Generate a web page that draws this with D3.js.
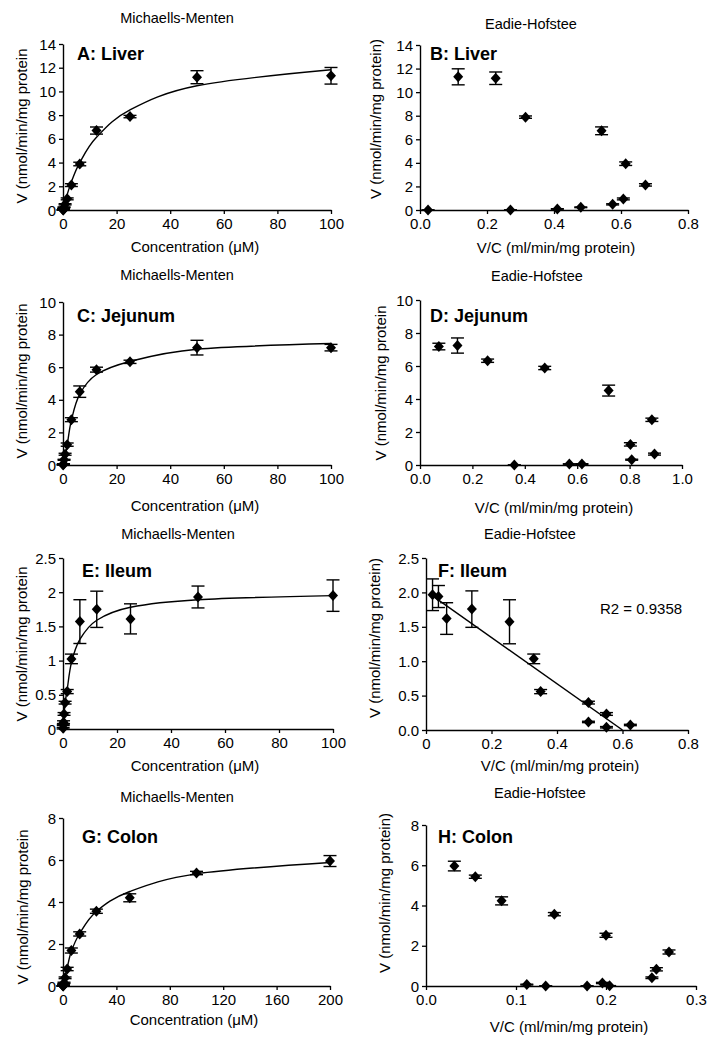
<!DOCTYPE html>
<html><head><meta charset="utf-8">
<script src="https://cdn.jsdelivr.net/npm/d3@7"></script>
<style>
body{margin:0;background:#fff}
svg{display:block}
text{font-family:"Liberation Sans",Arial,sans-serif;fill:#000}
</style>
</head><body><svg id="c" width="718" height="1050"></svg>
<script>
// ---------- DATA ----------
// A: Liver, Michaelis-Menten
const liverConc = [0.05, 0.1, 0.2, 0.39, 0.78, 1.56, 3.125, 6.25, 12.5, 25, 50, 100];
const liverV    = [0.0, 0.01, 0.09, 0.23, 0.48, 0.94, 2.1, 3.88, 6.7, 7.88, 11.2, 11.32];
const liverErr  = [0.01, 0.01, 0.02, 0.03, 0.05, 0.08, 0.12, 0.15, 0.3, 0.1, 0.55, 0.7];
const liverFitY = [0.05, 0.09, 0.18, 0.35, 0.68, 1.3, 2.37, 3.99, 6.13, 8.45, 10.48, 11.83];
// B: Liver, Eadie-Hofstee
const liverVC   = [0.024, 0.27, 0.41, 0.48, 0.575, 0.607, 0.673, 0.614, 0.542, 0.315, 0.226, 0.114];
const liverEHV  = [0.0, 0.0, 0.09, 0.23, 0.48, 0.94, 2.13, 3.93, 6.72, 7.88, 11.18, 11.3];
const liverEHErr= [0.01, 0.01, 0.02, 0.03, 0.05, 0.08, 0.1, 0.15, 0.33, 0.1, 0.53, 0.68];

// C: Jejunum, Michaelis-Menten
const jejConc   = [0.05, 0.1, 0.2, 0.39, 0.78, 1.56, 3.125, 6.25, 12.5, 25, 50, 100];
const jejV      = [0.0, 0.05, 0.06, 0.32, 0.66, 1.25, 2.78, 4.5, 5.85, 6.33, 7.2, 7.2];
const jejErr    = [0.01, 0.01, 0.02, 0.03, 0.06, 0.1, 0.12, 0.35, 0.15, 0.1, 0.45, 0.2];
const jejFitY   = [0.02, 0.05, 0.1, 0.22, 0.5, 1.2, 2.75, 4.35, 5.55, 6.35, 7.1, 7.45];
// D: Jejunum, Eadie-Hofstee
const jejVC     = [0.36, 0.57, 0.618, 0.808, 0.895, 0.803, 0.885, 0.72, 0.476, 0.258, 0.143, 0.072];
const jejEHV    = [0.0, 0.06, 0.06, 0.32, 0.66, 1.25, 2.74, 4.51, 5.88, 6.32, 7.24, 7.18];
const jejEHErr  = [0.01, 0.01, 0.02, 0.03, 0.06, 0.1, 0.1, 0.33, 0.1, 0.1, 0.46, 0.2];

// E: Ileum, Michaelis-Menten
const ileConc   = [0.05, 0.1, 0.2, 0.39, 0.78, 1.56, 3.125, 6.25, 12.5, 25, 50, 100];
const ileV      = [0.01, 0.06, 0.1, 0.22, 0.385, 0.547, 1.025, 1.57, 1.75, 1.61, 1.93, 1.95];
const ileErr    = [0.01, 0.01, 0.02, 0.02, 0.02, 0.03, 0.07, 0.32, 0.265, 0.22, 0.16, 0.23];
const ileFitY   = [0.03, 0.06, 0.11, 0.21, 0.38, 0.58, 0.97, 1.31, 1.59, 1.78, 1.89, 1.95];
// F: Ileum, Eadie-Hofstee
const ileVC     = [0.551, 0.624, 0.496, 0.551, 0.496, 0.35, 0.329, 0.255, 0.14, 0.063, 0.038, 0.02];
const ileEHV    = [0.04, 0.073, 0.117, 0.233, 0.398, 0.558, 1.034, 1.573, 1.757, 1.62, 1.94, 1.966];
const ileEHErr  = [0.01, 0.01, 0.01, 0.02, 0.02, 0.03, 0.07, 0.32, 0.265, 0.23, 0.16, 0.23];
const ileTrendX = [0.02, 0.6];
const ileTrendY = [1.95, 0.0];
const ileR2     = "R2 = 0.9358";

// G: Colon, Michaelis-Menten
const colConc   = [0.05, 0.1, 0.2, 0.39, 0.78, 1.56, 3.125, 6.25, 12.5, 25, 50, 100, 200];
const colV      = [0.0, 0.0, 0.01, 0.07, 0.15, 0.39, 0.81, 1.69, 2.48, 3.56, 4.2, 5.38, 5.95];
const colErr    = [0.01, 0.01, 0.01, 0.02, 0.03, 0.04, 0.08, 0.12, 0.1, 0.1, 0.19, 0.08, 0.26];
const colFitY   = [0.01, 0.03, 0.05, 0.1, 0.2, 0.42, 0.85, 1.65, 2.5, 3.55, 4.5, 5.34, 5.88];
// H: Colon, Eadie-Hofstee
const colVC     = [0.133, 0.179, 0.204, 0.112, 0.196, 0.251, 0.256, 0.27, 0.2, 0.1426, 0.084, 0.0548, 0.0315];
const colEHV    = [0.0, 0.0, 0.01, 0.07, 0.15, 0.41, 0.83, 1.69, 2.52, 3.57, 4.23, 5.43, 5.96];
const colEHErr  = [0.01, 0.01, 0.01, 0.02, 0.03, 0.04, 0.08, 0.1, 0.1, 0.08, 0.2, 0.08, 0.24];

// Axis ticks
const mmTicksX100   = [0, 20, 40, 60, 80, 100];
const mmTicksX200   = [0, 40, 80, 120, 160, 200];
const liverTicksY   = [0, 2, 4, 6, 8, 10, 12, 14];
const jejTicksY     = [0, 2, 4, 6, 8, 10];
const ileTicksY     = [0, 0.5, 1, 1.5, 2, 2.5];
const colTicksY     = [0, 2, 4, 6, 8];
const ehTicksX08    = [0, 0.2, 0.4, 0.6, 0.8];
const ehTicksX10    = [0, 0.2, 0.4, 0.6, 0.8, 1.0];
const ehTicksX03    = [0, 0.1, 0.2, 0.3];

const mmTitle = "Michaells-Menten";
const ehTitle = "Eadie-Hofstee";
const mmXLabel = "Concentration (\u03bcM)";
const ehXLabel = "V/C (ml/min/mg protein)";
const yLabelOpen = "V (nmol/min/mg protein";
const yLabelClosed = "V (nmol/min/mg protein)";

// ---------- PANELS ----------
const panels = [
  {label:"A: Liver", title:mmTitle, xl:mmXLabel, yl:yLabelOpen, x:liverConc, y:liverV, e:liverErr, fx:liverConc, fy:liverFitY,
   xd:[0,100], yd:[0,14], xt:mmTicksX100, yt:liverTicksY, xf:d3.format("d"), yf:d3.format("d"),
   g:{x0:63,x1:331,yb:210,yt:44, tx:177,ty:23, lx:77,ly:60, axx:195,axy:252, ayx:21.7,ayy:126}},
  {label:"B: Liver", title:ehTitle, xl:ehXLabel, yl:yLabelClosed, x:liverVC, y:liverEHV, e:liverEHErr,
   xd:[0,0.8], yd:[0,14], xt:ehTicksX08, yt:liverTicksY, xf:d3.format(".1f"), yf:d3.format("d"),
   g:{x0:420,x1:688,yb:210,yt:45, tx:531,ty:29, lx:430,ly:60, axx:556,axy:253, ayx:376,ayy:119}},
  {label:"C: Jejunum", title:mmTitle, xl:mmXLabel, yl:yLabelOpen, x:jejConc, y:jejV, e:jejErr, fx:jejConc, fy:jejFitY,
   xd:[0,100], yd:[0,10], xt:mmTicksX100, yt:jejTicksY, xf:d3.format("d"), yf:d3.format("d"),
   g:{x0:63,x1:331,yb:465,yt:302, tx:177,ty:280, lx:77,ly:322, axx:195,axy:511, ayx:21.7,ayy:381}},
  {label:"D: Jejunum", title:ehTitle, xl:ehXLabel, yl:yLabelOpen, x:jejVC, y:jejEHV, e:jejEHErr,
   xd:[0,1.0], yd:[0,10], xt:ehTicksX10, yt:jejTicksY, xf:d3.format(".1f"), yf:d3.format("d"),
   g:{x0:420,x1:682,yb:465,yt:300, tx:537,ty:281, lx:430,ly:322, axx:554,axy:513, ayx:380.7,ayy:383}},
  {label:"E: Ileum", title:mmTitle, xl:mmXLabel, yl:yLabelOpen, x:ileConc, y:ileV, e:ileErr, fx:ileConc, fy:ileFitY,
   xd:[0,100], yd:[0,2.5], xt:mmTicksX100, yt:ileTicksY, xf:d3.format("d"), yf:(v=>String(v)),
   g:{x0:63,x1:333,yb:729,yt:558, tx:178,ty:539, lx:82,ly:577, axx:195,axy:771, ayx:21.7,ayy:644}},
  {label:"F: Ileum", title:ehTitle, xl:ehXLabel, yl:yLabelClosed, x:ileVC, y:ileEHV, e:ileEHErr, tx:ileTrendX, ty:ileTrendY, r2:ileR2,
   xd:[0,0.8], yd:[0,2.5], xt:ehTicksX08, yt:ileTicksY, xf:(v=>String(v)), yf:d3.format(".1f"),
   g:{x0:426,x1:688,yb:730,yt:558, tx:530,ty:539, lx:438,ly:577, axx:560,axy:771, ayx:374.7,ayy:638, r2x:600,r2y:614}},
  {label:"G: Colon", title:mmTitle, xl:mmXLabel, yl:yLabelOpen, x:colConc, y:colV, e:colErr, fx:colConc, fy:colFitY,
   xd:[0,200], yd:[0,8], xt:mmTicksX200, yt:colTicksY, xf:d3.format("d"), yf:d3.format("d"),
   g:{x0:63,x1:330,yb:986,yt:818, tx:177,ty:802, lx:82,ly:843, axx:194,axy:1025, ayx:22.7,ayy:907}},
  {label:"H: Colon", title:ehTitle, xl:ehXLabel, yl:yLabelClosed, x:colVC, y:colEHV, e:colEHErr,
   xd:[0,0.3], yd:[0,8], xt:ehTicksX03, yt:colTicksY, xf:d3.format(".1f"), yf:d3.format("d"),
   g:{x0:426,x1:696,yb:986,yt:825, tx:540,ty:798, lx:438,ly:843, axx:569,axy:1032, ayx:384.7,ayy:893}}
];

const svg = d3.select("#c");
svg.append("rect").attr("width",718).attr("height",1050).attr("fill","#fff");

const FS = 15;
const diamond = "M0,-5.5L5,0L0,5.5L-5,0Z";

panels.forEach((p, i) => {
  const g = p.g;
  const xs = d3.scaleLinear().domain(p.xd).range([g.x0, g.x1]);
  const ys = d3.scaleLinear().domain(p.yd).range([g.yb, g.yt]);
  const root = svg.append("g");

  // title
  root.append("text").attr("x", g.tx).attr("y", g.ty).attr("text-anchor","middle")
    .style("font-size","14.5px").text(p.title);

  // axes
  const ax = root.append("g").attr("transform",`translate(0,${g.yb})`)
    .call(d3.axisBottom(xs).tickValues(p.xt).tickFormat(p.xf).tickSize(4).tickSizeOuter(0));
  const ay = root.append("g").attr("transform",`translate(${g.x0},0)`)
    .call(d3.axisLeft(ys).tickValues(p.yt).tickFormat(p.yf).tickSize(4).tickSizeOuter(0));
  [ax, ay].forEach(a => {
    a.select(".domain").attr("stroke","#000").attr("stroke-width",1.4);
    a.selectAll(".tick line").attr("stroke","#000").attr("stroke-width",1.3);
    a.selectAll(".tick text").style("font-size",FS+"px").style("font-family",'"Liberation Sans",Arial,sans-serif').attr("fill","#000");
  });
  ax.selectAll(".tick text").attr("y", 8).attr("dy","0.71em");
  ay.selectAll(".tick text").attr("x", -7).attr("dy","0.34em");

  // axis titles
  root.append("text").attr("x", g.axx).attr("y", g.axy).attr("text-anchor","middle")
    .style("font-size",FS+"px").text(p.xl);
  root.append("text").attr("transform",`translate(${g.ayx},${g.ayy}) rotate(-90)`)
    .attr("text-anchor","middle").attr("dy","0.35em").style("font-size",FS+"px").text(p.yl);

  // panel label
  root.append("text").attr("x", g.lx).attr("y", g.ly).style("font-size","18px")
    .style("font-weight","bold").text(p.label);

  // clip
  const cid = "clip"+i;
  svg.append("clipPath").attr("id",cid).append("rect")
    .attr("x", g.x0).attr("y", g.yt-2).attr("width", g.x1-g.x0+2).attr("height", g.yb-g.yt+2);

  // fitted curve
  if (p.fx) {
    const pts = p.fx.map((x,k)=>[xs(x), ys(p.fy[k])]);
    root.append("path").attr("d", d3.line().curve(d3.curveCardinal.tension(0))(pts))
      .attr("fill","none").attr("stroke","#000").attr("stroke-width",1.4);
  }
  // trendline
  if (p.tx) {
    const pts = p.tx.map((x,k)=>[xs(x), ys(p.ty[k])]);
    root.append("path").attr("d", d3.line()(pts)).attr("clip-path",`url(#${cid})`)
      .attr("fill","none").attr("stroke","#000").attr("stroke-width",1.4);
  }
  if (p.r2) {
    root.append("text").attr("x", g.r2x).attr("y", g.r2y).style("font-size",FS+"px").text(p.r2);
  }

  // error bars
  const eb = root.append("g").attr("stroke","#000").attr("stroke-width",1.4).attr("fill","none");
  p.x.forEach((x,k) => {
    const cx = xs(x), yt = ys(p.y[k]+p.e[k]), ybm = ys(p.y[k]-p.e[k]);
    eb.append("line").attr("x1",cx).attr("x2",cx).attr("y1",yt).attr("y2",ybm);
    eb.append("line").attr("x1",cx-6.5).attr("x2",cx+6.5).attr("y1",yt).attr("y2",yt);
    eb.append("line").attr("x1",cx-6.5).attr("x2",cx+6.5).attr("y1",ybm).attr("y2",ybm);
  });
  // markers
  root.append("g").selectAll("path").data(p.x).join("path")
    .attr("d", diamond)
    .attr("transform",(x,k)=>`translate(${xs(x)},${ys(p.y[k])})`)
    .attr("fill","#000");
});
</script></body></html>
